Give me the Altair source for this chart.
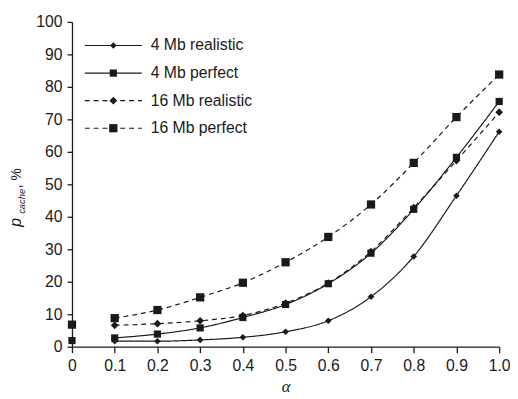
import altair as alt
import pandas as pd

alphas = [0.0, 0.1, 0.2, 0.3, 0.4, 0.5, 0.6, 0.7, 0.8, 0.9, 1.0]
y_ticks = [0, 10, 20, 30, 40, 50, 60, 70, 80, 90, 100]
series_names = ["4 Mb realistic", "4 Mb perfect", "16 Mb realistic", "16 Mb perfect"]
mb4_realistic = [1.9, 1.7, 1.7, 2.1, 2.9, 4.6, 8.0, 15.4, 27.8, 46.5, 66.2]
mb4_perfect = [1.9, 2.7, 3.9, 5.8, 9.0, 13.0, 19.4, 28.8, 42.3, 58.3, 75.5]
mb16_realistic = [6.8, 6.6, 7.1, 8.0, 9.6, 13.4, 19.6, 29.3, 42.8, 57.3, 72.2]
mb16_perfect = [6.8, 8.8, 11.3, 15.2, 19.7, 26.0, 33.8, 43.8, 56.6, 70.7, 83.8]

values = [mb4_realistic, mb4_perfect, mb16_realistic, mb16_perfect]
rows = []
for name, vals in zip(series_names, values):
    for a, v in zip(alphas, vals):
        rows.append({"series": name, "alpha": a, "p": v})
df = pd.DataFrame(rows)
legend_df = pd.DataFrame({"series": series_names, "row": list(range(len(series_names)))})

FONT = "Liberation Sans"
INK = "#1a1a1a"

dash_scale = alt.Scale(domain=series_names, range=[[1, 0], [1, 0], [5, 4], [5, 4]])
shape_scale = alt.Scale(domain=series_names, range=["diamond", "square", "diamond", "square"])
size_scale = alt.Scale(domain=series_names, range=[45, 70, 45, 70])

x_axis = alt.Axis(values=alphas, title="α", grid=False,
                  labelExpr="datum.value == 0 ? '0' : format(datum.value, '.1f')",
                  titleFont="Liberation Serif", titleFontStyle="italic",
                  titleFontWeight="normal", titleFontSize=17, titlePadding=5,
                  labelPadding=5, tickSize=6, labelFlush=False, labelOverlap=False)
y_axis = alt.Axis(values=y_ticks, title=None, grid=False, tickCount=11,
                  labelPadding=5, tickSize=5, labelFlush=False, labelOverlap=False)
x_enc = alt.X("alpha:Q", scale=alt.Scale(domain=[0, 1], nice=False), axis=x_axis)
y_enc = alt.Y("p:Q", scale=alt.Scale(domain=[0, 100], nice=False), axis=y_axis)

lines = alt.Chart(df).transform_filter("datum.alpha > 0").mark_line(
    interpolate="monotone", color=INK, strokeWidth=1.2
).encode(
    x=x_enc, y=y_enc,
    strokeDash=alt.StrokeDash("series:N", scale=dash_scale, legend=None),
    detail="series:N",
)

points = alt.Chart(df).mark_point(filled=True, color=INK, opacity=1).encode(
    x=x_enc, y=y_enc,
    shape=alt.Shape("series:N", scale=shape_scale, legend=None),
    size=alt.Size("series:N", scale=size_scale, legend=None),
)

leg_base = alt.Chart(legend_df).transform_calculate(py="24 + 28 * datum.row")
leg_rule = leg_base.mark_rule(color=INK, strokeWidth=1.2).encode(
    x=alt.value(13), x2=alt.value(71),
    y=alt.Y("py:Q", scale=None, axis=None),
    strokeDash=alt.StrokeDash("series:N", scale=dash_scale, legend=None),
)
leg_pt = leg_base.mark_point(filled=True, color=INK, opacity=1).encode(
    x=alt.value(42),
    y=alt.Y("py:Q", scale=None, axis=None),
    shape=alt.Shape("series:N", scale=shape_scale, legend=None),
    size=alt.Size("series:N", scale=size_scale, legend=None),
)
leg_txt = leg_base.mark_text(align="left", baseline="middle", font=FONT, fontSize=16, color=INK).encode(
    x=alt.value(80),
    y=alt.Y("py:Q", scale=None, axis=None),
    text="series:N",
)

t_p = alt.Chart(pd.DataFrame({"t": ["p"]})).mark_text(angle=270, align="left", baseline="alphabetic", font=FONT,
                                    fontStyle="italic", fontSize=16, color=INK).encode(
    x=alt.value(-52), y=alt.value(208), text="t:N")
t_cache = alt.Chart(pd.DataFrame({"t": ["cache"]})).mark_text(angle=270, align="left", baseline="alphabetic",
                                    font=FONT, fontStyle="italic", fontSize=9.5, color=INK).encode(
    x=alt.value(-48), y=alt.value(195), text="t:N")
t_pct = alt.Chart(pd.DataFrame({"t": [", %"]})).mark_text(angle=270, align="left", baseline="alphabetic",
                                    font=FONT, fontSize=14, color=INK).encode(
    x=alt.value(-52), y=alt.value(169), text="t:N")

chart = alt.layer(lines, points, leg_rule, leg_pt, leg_txt, t_p, t_cache, t_pct).properties(
    width=434, height=330,
    background="white",
    autosize=alt.AutoSizeParams(type="none"),
    padding={"left": 65, "top": 11, "right": 11, "bottom": 52},
).configure_view(stroke=None).configure_axis(
    labelFont=FONT, labelFontSize=16, labelColor=INK, domainColor=INK, tickColor=INK,
    domainWidth=1.3, tickWidth=1.3, titleColor=INK,
)

chart.save("out.html", embed_options={"renderer": "svg", "actions": False})
